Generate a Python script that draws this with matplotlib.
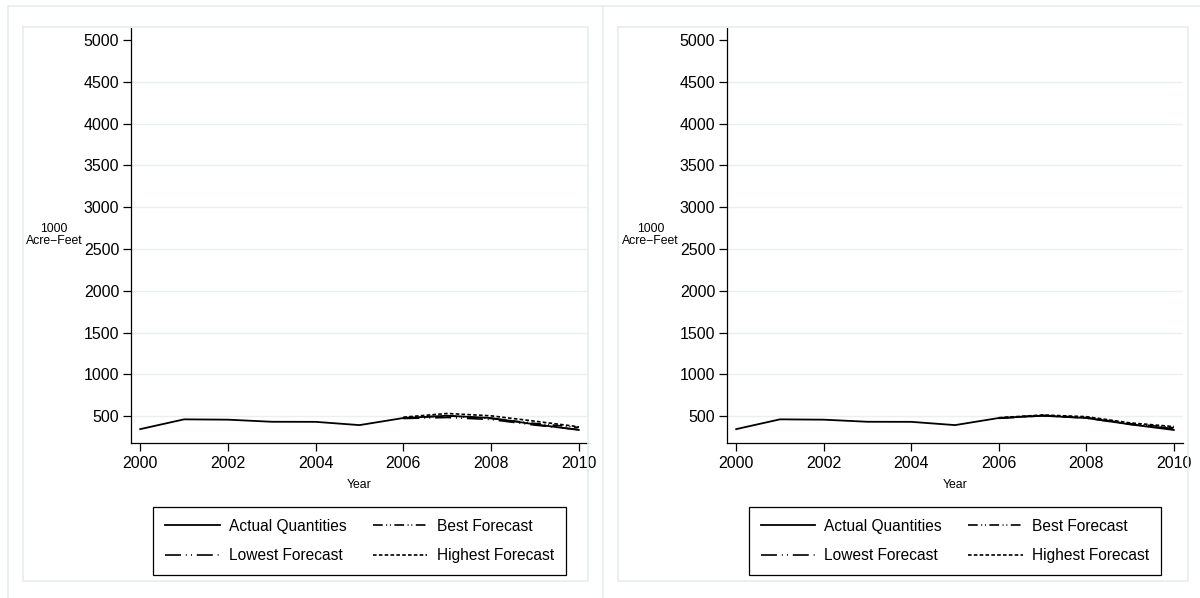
import matplotlib
matplotlib.use('Agg')
import matplotlib.pyplot as plt
from matplotlib.lines import Line2D

plt.rcParams['font.family'] = ['Liberation Sans', 'DejaVu Sans']
plt.rcParams['lines.scale_dashes'] = False

# Water deliveries, thousand acre-feet
years = list(range(2000, 2011))
actual = [345, 462, 458, 433, 432, 393, 478, 505, 478, 402, 335]

forecast_years = [2006, 2007, 2008, 2009, 2010]
best_left = [480, 504, 472, 413, 365]
lowest_left = [472, 484, 460, 393, 340]
highest_left = [488, 532, 504, 440, 373]

best_right = [478, 510, 484, 410, 362]
lowest_right = [474, 505, 478, 402, 352]
highest_right = [482, 514, 494, 420, 375]

yticks = [500, 1000, 1500, 2000, 2500, 3000, 3500, 4000, 4500, 5000]
xticks = [2000, 2002, 2004, 2006, 2008, 2010]

W, H = 1200, 598
grid_color = '#e9f0f2'
frame_color = '#e6eced'

styles = {
    'actual': dict(color='black', lw=1.3, ls='-'),
    'best': dict(color='black', lw=1.2, ls=(0, (7, 2.5, 0.7, 2, 0.7, 2.5))),
    'lowest': dict(color='black', lw=1.2, ls=(0, (11.5, 3.5, 0.7, 3, 0.7, 3.5))),
    'highest': dict(color='black', lw=1.2, ls=(0, (2.6, 1.6))),
}

fig = plt.figure(figsize=(W / 100, H / 100), dpi=100)


def px_rect(x0, y0, x1, y1):
    return [x0 / W, 1 - y1 / H, (x1 - x0) / W, (y1 - y0) / H]


def fig_line(xs, ys):
    fig.add_artist(Line2D([x / W for x in xs], [1 - y / H for y in ys],
                          color=frame_color, lw=1.2, transform=fig.transFigure))


# outer frames and separator
fig_line([8, 1200], [6, 6])
fig_line([8, 8], [6, 598])
fig_line([603, 603], [6, 598])

# inner graph-region frames
for x0, x1 in [(23, 588), (618, 1188)]:
    fig_line([x0, x1, x1, x0, x0], [27, 27, 581, 581, 27])


def panel(rect, best, lowest, highest):
    ax = fig.add_axes(rect)
    for v in yticks[:-1]:
        ax.axhline(v, color=grid_color, lw=1.0, zorder=0)
    h_act, = ax.plot(years, actual, label='Actual Quantities', **styles['actual'])
    h_best, = ax.plot(forecast_years, best, label='Best Forecast', **styles['best'])
    h_low, = ax.plot(forecast_years, lowest, label='Lowest Forecast', **styles['lowest'])
    h_high, = ax.plot(forecast_years, highest, label='Highest Forecast', **styles['highest'])

    ax.set_xlim(1999.79, 2010.21)
    ax.set_ylim(179, 5143)
    ax.set_xticks(xticks)
    ax.set_yticks(yticks)
    for s in ['top', 'right']:
        ax.spines[s].set_visible(False)
    for s in ['left', 'bottom']:
        ax.spines[s].set_linewidth(0.9)
    ax.tick_params(direction='out', length=5.5, width=0.9, labelsize=11.5, pad=3)
    ax.tick_params(axis='x', pad=4)

    ax.set_xlabel('Year', fontsize=8.8, va='center')
    ax.xaxis.set_label_coords(0.5, -0.101)
    ax.set_ylabel('1000\nAcre\u2212Feet', fontsize=8.8, rotation=0,
                  ha='center', va='center', linespacing=1.0)
    ax.yaxis.set_label_coords(-0.168, 0.5)

    leg = ax.legend([h_act, h_low, h_best, h_high],
                    ['Actual Quantities', 'Lowest Forecast', 'Best Forecast', 'Highest Forecast'],
                    ncol=2, loc='upper center', bbox_to_anchor=(0.5, -0.154),
                    borderaxespad=0, fontsize=11.2, frameon=True, fancybox=False,
                    edgecolor='black', framealpha=1, handlelength=3.5,
                    handletextpad=0.6, columnspacing=1.7, labelspacing=0.95,
                    borderpad=0.75)
    leg.get_frame().set_linewidth(0.9)
    return ax


panel(px_rect(131, 28, 588, 443), best_left, lowest_left, highest_left)
panel(px_rect(727, 28, 1183, 443), best_right, lowest_right, highest_right)

plt.savefig('out.png', dpi=100)
